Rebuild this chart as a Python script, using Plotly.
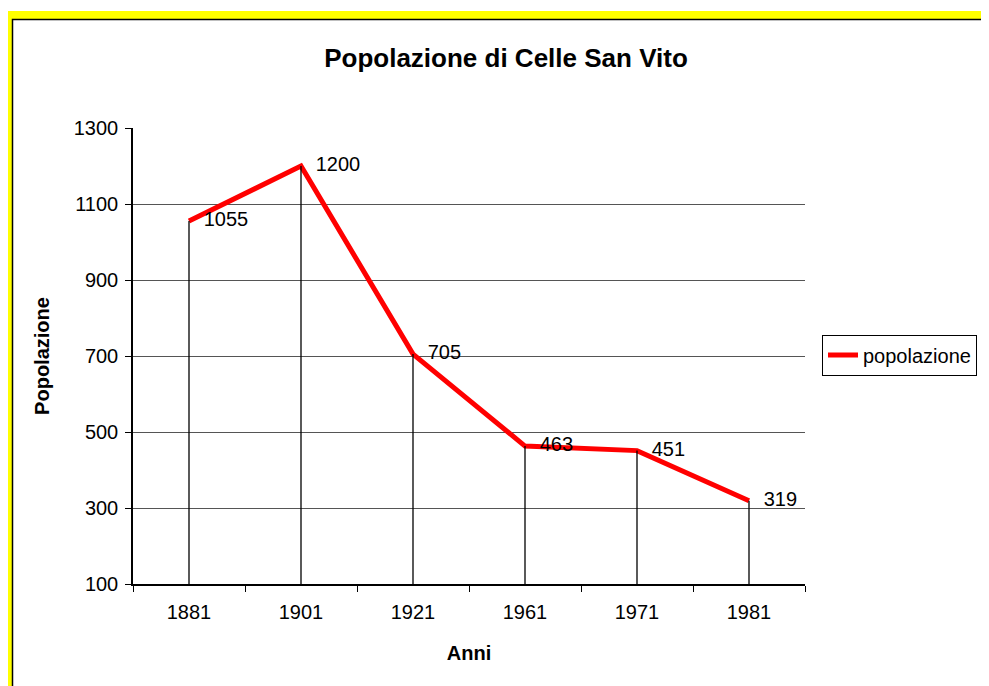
import plotly.graph_objects as go

# ---- data ----
anni = ["1881", "1901", "1921", "1961", "1971", "1981"]
popolazione = [1055, 1200, 705, 463, 451, 319]
y_ticks = [100, 300, 500, 700, 900, 1100, 1300]
y_min, y_max = 100, 1300

FONT = "Liberation Sans, Arial, sans-serif"

# the page body adds an 8px margin; compensate so the picture lines up
OFF = 8
WIN_W, WIN_H = 989, 686
W, H = WIN_W - OFF, WIN_H - OFF
# plot-area geometry in window px
L, R, T, B = 133, 805, 128, 584
def px(x):
    return (x - L) / (R - L)
def py(y):
    return 1 - (y - T) / (B - T)

fig = go.Figure()

# drop lines from each point to the category axis (on overlay axis that
# carries the dark inner gridlines)
dx, dy = [], []
for a, v in zip(anni, popolazione):
    dx += [a, a, None]
    dy += [y_min, v, None]
fig.add_trace(go.Scatter(x=dx, y=dy, mode="lines", yaxis="y2",
                         line=dict(color="black", width=1.3),
                         showlegend=False, hoverinfo="skip"))

# main series
fig.add_trace(go.Scatter(x=anni, y=popolazione, mode="lines",
                         name="popolazione",
                         line=dict(color="#ff0000", width=5)))

# data labels
fig.add_trace(go.Scatter(x=anni, y=popolazione, mode="markers+text",
                         text=[str(v) for v in popolazione],
                         textposition="middle right",
                         textfont=dict(family=FONT, size=20, color="black"),
                         marker=dict(size=22, opacity=0),
                         showlegend=False, hoverinfo="skip"))

shapes = [
    dict(type="rect", xref="paper", yref="paper", layer="below",
         x0=px(4), x1=px(1010), y0=py(720), y1=py(11),
         fillcolor="#ffff00", line=dict(width=0)),
    dict(type="rect", xref="paper", yref="paper", layer="below",
         x0=px(12.5), x1=px(1010), y0=py(720), y1=py(19.5),
         fillcolor="white", line=dict(color="black", width=1.5)),
]

fig.update_layout(
    width=W, height=H,
    margin=dict(l=L - OFF, r=WIN_W - R, t=T - OFF, b=WIN_H - B,
                autoexpand=False),
    paper_bgcolor="white",
    plot_bgcolor="rgba(0,0,0,0)",
    font=dict(family=FONT, size=20, color="black"),
    shapes=shapes,
    title=dict(text="<b>Popolazione di Celle San Vito</b>",
               font=dict(family=FONT, size=26, color="black"),
               x=px(506), xref="paper", xanchor="center",
               y=1 - (58 - OFF) / H, yref="container", yanchor="middle"),
    showlegend=True,
    legend=dict(x=(822 - OFF) / W, xref="container", xanchor="left",
                y=1 - (355 - OFF) / H, yref="container", yanchor="middle",
                bordercolor="black", borderwidth=1, bgcolor="white",
                font=dict(family=FONT, size=20, color="black"),
                itemwidth=30, tracegroupgap=0),
    yaxis2=dict(overlaying="y", range=[y_min, y_max],
                tickvals=y_ticks[1:-1], showticklabels=False, ticks="",
                showline=False, showgrid=True, gridcolor="#555555",
                gridwidth=1, zeroline=False, automargin=False),
)

fig.update_xaxes(type="category", range=[-0.5, len(anni) - 0.5],
                 tickson="boundaries", ticks="outside", ticklen=6,
                 tickcolor="black", showline=True, linecolor="black",
                 linewidth=1.5, showgrid=False, ticklabelstandoff=9,
                 automargin=False,
                 tickfont=dict(family=FONT, size=20, color="black"),
                 title=dict(text="<b>Anni</b>", standoff=24,
                            font=dict(family=FONT, size=20, color="black")))

fig.update_layout(yaxis=dict(
    range=[y_min, y_max], tickvals=y_ticks,
    ticks="outside", ticklen=6, tickcolor="black",
    showline=True, linecolor="black", linewidth=1.5,
    showgrid=True, gridcolor="#dcdcdc", gridwidth=1,
    zeroline=False, ticklabelstandoff=3, automargin=False,
    tickfont=dict(family=FONT, size=20, color="black"),
    title=dict(text="<b>Popolazione</b>", standoff=19,
               font=dict(family=FONT, size=20, color="black"))))

fig.write_html("out.html")
